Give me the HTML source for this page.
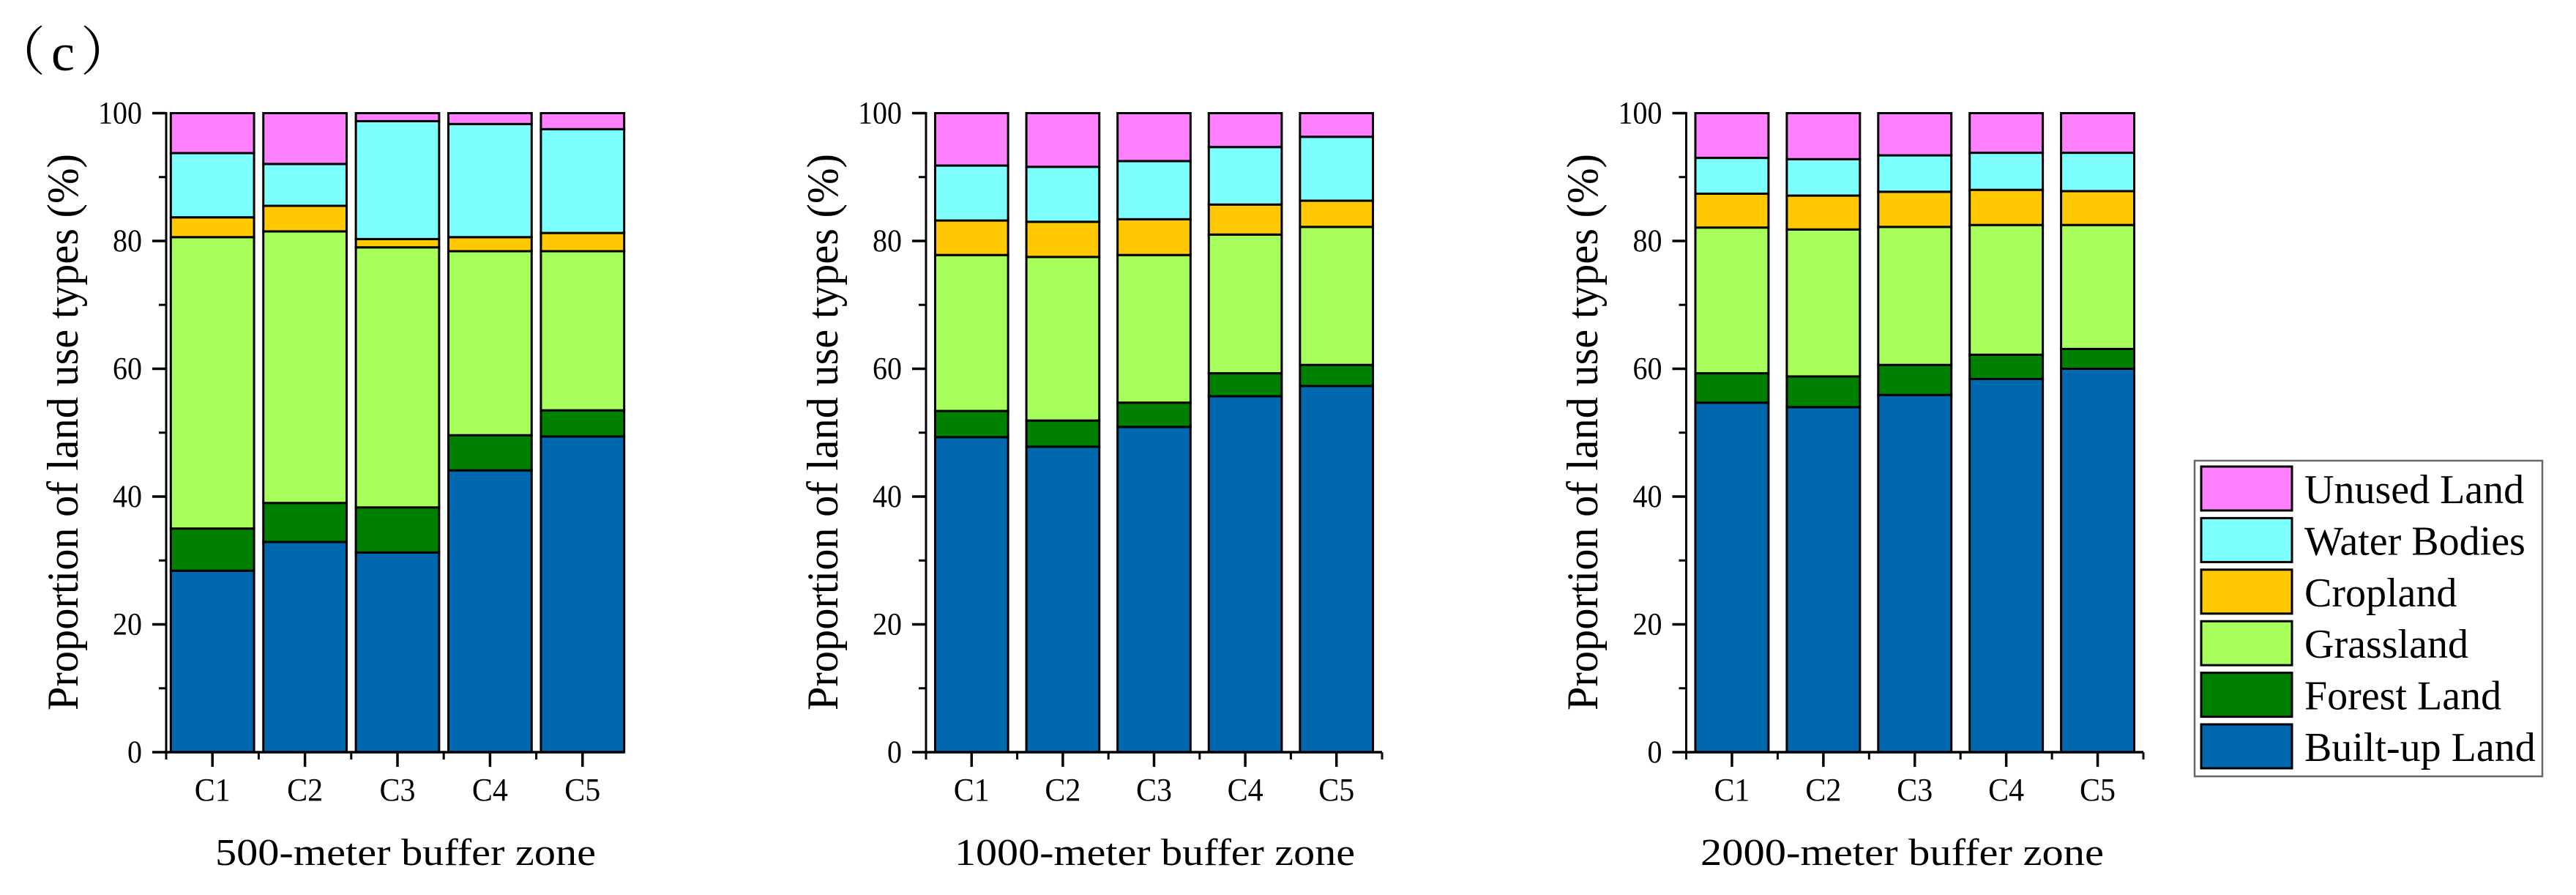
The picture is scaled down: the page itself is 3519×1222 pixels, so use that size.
<!DOCTYPE html>
<html lang="en">
<head>
<meta charset="utf-8">
<title>Proportion of land use types by buffer zone</title>
<style>
html,body{margin:0;padding:0;background:#fff;width:3519px;height:1222px;overflow:hidden}
svg{display:block}
text{font-family:"Liberation Serif","Noto Serif CJK SC",serif;fill:#000}
</style>
</head>
<body>
<svg id="figure" xmlns="http://www.w3.org/2000/svg" width="3519" height="1222" viewBox="0 0 3519 1222">
  <rect width="3519" height="1222" fill="#fff"/>
  <text x="-10" y="96" font-size="72">（<tspan dx="8">c</tspan><tspan dx="8">）</tspan></text>
  <g id="panels"></g>
  <g>
    <rect x="2998" y="629" width="475" height="431" fill="#fff" stroke="#666" stroke-width="2.5"/>
    <g id="legend-entries"></g>
  </g>
</svg>
<script>
const categories = ['C1', 'C2', 'C3', 'C4', 'C5'];
const yTickValues = [0, 10, 20, 30, 40, 50, 60, 70, 80, 90, 100];
const yTickLabels = ['0', '20', '40', '60', '80', '100'];
const seriesNames = ['Built-up Land', 'Forest Land', 'Grassland', 'Cropland', 'Water Bodies', 'Unused Land'];
const seriesColors = ['#0068ae', '#008000', '#a8ff5c', '#ffc800', '#7dffff', '#ff80ff'];

const builtUp500 = [28.4, 32.9, 31.25, 44.1, 49.4];
const forest500 = [6.6, 6.1, 7.05, 5.5, 4.1];
const grass500 = [45.6, 42.5, 40.7, 28.8, 24.9];
const crop500 = [3.1, 4.0, 1.3, 2.2, 2.85];
const water500 = [10.05, 6.55, 18.45, 17.7, 16.25];
const unused500 = [6.25, 7.95, 1.25, 1.7, 2.5];

const builtUp1000 = [49.3, 47.8, 50.9, 55.7, 57.3];
const forest1000 = [4.1, 4.1, 3.8, 3.6, 3.3];
const grass1000 = [24.4, 25.6, 23.1, 21.7, 21.6];
const crop1000 = [5.4, 5.5, 5.6, 4.7, 4.1];
const water1000 = [8.6, 8.6, 9.1, 9.0, 10.0];
const unused1000 = [8.2, 8.4, 7.5, 5.3, 3.7];

const builtUp2000 = [54.7, 54.0, 55.9, 58.4, 60.0];
const forest2000 = [4.6, 4.8, 4.7, 3.8, 3.1];
const grass2000 = [22.8, 23.0, 21.6, 20.3, 19.4];
const crop2000 = [5.3, 5.3, 5.5, 5.5, 5.3];
const water2000 = [5.6, 5.7, 5.7, 5.8, 6.0];
const unused2000 = [7.0, 7.2, 6.6, 6.2, 6.2];

const NS = 'http://www.w3.org/2000/svg';
const Y0 = 1027, PX_PER_PCT = 8.725;
function yScale(v) { return Y0 - v * PX_PER_PCT; }

function make(tag, parent, attrs, txt) {
  const el = document.createElementNS(NS, tag);
  for (const k in attrs) el.setAttribute(k, attrs[k]);
  if (txt !== undefined) el.textContent = txt;
  parent.appendChild(el);
  return el;
}

function drawPanel(host, cfg) {
  const xCenter = function (i) { return cfg.axisX + cfg.step * (i + 0.5); };
  const g = make('g', host, {});
  
  

  categories.forEach(function (cat, i) {
    const bw = cfg.step * cfg.barFrac;
    const bx = xCenter(i) - bw / 2;
    let cum = 0;
    cfg.series.forEach(function (vals, s) {
      const v = vals[i];
      const top = yScale(cum + v);
      const seg = make('rect', g, {
        x: bx, y: top, width: bw, height: yScale(cum) - top,
        fill: seriesColors[s], stroke: '#000', 'stroke-width': 3
      });
      
      
      cum += v;
    });
    const tick = make('line', g, { x1: xCenter(i), x2: xCenter(i), y1: Y0, y2: Y0 + 20, stroke: '#000', 'stroke-width': 3.5 });
    
    
    const label = make('text', g, {
      x: xCenter(i), y: 1093, 'font-size': 44, 'text-anchor': 'middle',
      textLength: 49, lengthAdjust: 'spacingAndGlyphs'
    }, cat);
    
    
  });

  for (let i = 0; i <= categories.length; i++) {
    const mx = cfg.axisX + cfg.step * i;
    if (mx > cfg.axisEnd + 1) continue;
    const minor = make('line', g, { x1: mx, x2: mx, y1: Y0, y2: Y0 + 10, stroke: '#000', 'stroke-width': 3 });
    
    
  }

  const yAxis = make('line', g, { x1: cfg.axisX, x2: cfg.axisX, y1: yScale(100) - 1.5, y2: Y0 + 1.5, stroke: '#000', 'stroke-width': 3 });
  
  
  const xAxis = make('line', g, { x1: cfg.axisX, x2: cfg.axisEnd, y1: Y0, y2: Y0, stroke: '#000', 'stroke-width': 3.5 });
  
  

  yTickValues.forEach(function (v) {
    const isMajor = v % 20 === 0;
    const t = make('line', g, {
      x1: cfg.axisX - (isMajor ? 19 : 10), x2: cfg.axisX, y1: yScale(v), y2: yScale(v),
      stroke: '#000', 'stroke-width': isMajor ? 3.5 : 3
    });
    
    
  });
  yTickLabels.forEach(function (lab) {
    const t = make('text', g, {
      x: cfg.axisX - 33, y: yScale(Number(lab)) + 14, 'font-size': 43, 'text-anchor': 'end',
      textLength: lab.length * 20, lengthAdjust: 'spacingAndGlyphs'
    }, lab);
    
    
  });

  const yTitle = make('text', g, {
    transform: 'translate(' + cfg.yTitleX + ',970) rotate(-90)', 'font-size': 60,
    textLength: 760, lengthAdjust: 'spacingAndGlyphs'
  }, 'Proportion of land use types (%)');
  
  

  const xTitle = make('text', g, {
    x: cfg.xTitleX, y: 1181, 'font-size': 52,
    textLength: cfg.xTitleLen, lengthAdjust: 'spacingAndGlyphs'
  }, cfg.xTitle);
  
  
}

const panelsHost = document.getElementById('panels');
drawPanel(panelsHost, {
  key: '500', axisX: 227, step: 126.4, axisEnd: 853, barFrac: 0.9, yTitleX: 106,
  xTitle: '500-meter buffer zone', xTitleX: 294, xTitleLen: 520,
  series: [builtUp500, forest500, grass500, crop500, water500, unused500]
});
drawPanel(panelsHost, {
  key: '1000', axisX: 1265, step: 124.6, axisEnd: 1888, barFrac: 0.8, yTitleX: 1144,
  xTitle: '1000-meter buffer zone', xTitleX: 1304, xTitleLen: 547,
  series: [builtUp1000, forest1000, grass1000, crop1000, water1000, unused1000]
});
drawPanel(panelsHost, {
  key: '2000', axisX: 2303.5, step: 124.9, axisEnd: 2928, barFrac: 0.8, yTitleX: 2182,
  xTitle: '2000-meter buffer zone', xTitleX: 2323, xTitleLen: 551,
  series: [builtUp2000, forest2000, grass2000, crop2000, water2000, unused2000]
});

const legendHost = document.getElementById('legend-entries');
seriesNames.slice().reverse().forEach(function (name, row) {
  const s = seriesNames.length - 1 - row;
  const rowTop = 637 + row * 70.4;
  const slug = name.toLowerCase().replace(/ /g, '-');
  const swatch = make('rect', legendHost, {
    x: 3007, y: rowTop, width: 124, height: 60, fill: seriesColors[s], stroke: '#000', 'stroke-width': 3
  });
  
  
  const label = make('text', legendHost, { x: 3148, y: rowTop + 50, 'font-size': 56 }, name);
  
  
});
</script>
</body>
</html>
